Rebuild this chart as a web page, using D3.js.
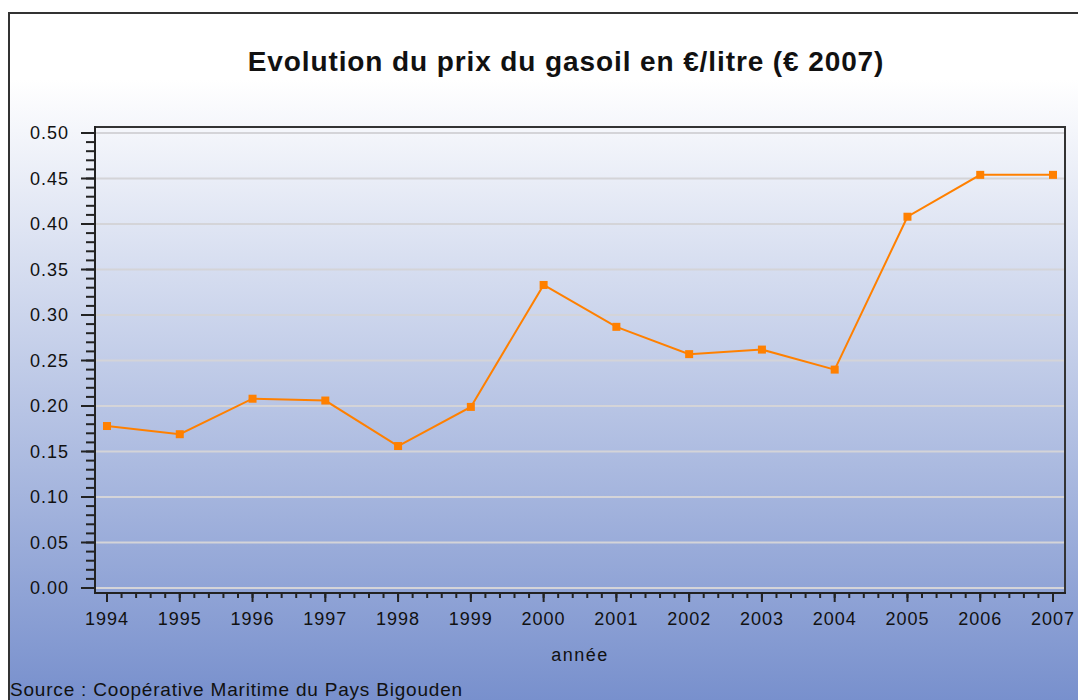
<!DOCTYPE html>
<html>
<head>
<meta charset="utf-8">
<script src="https://cdn.jsdelivr.net/npm/d3@7"></script>
<style>
  body { margin: 0; background: #fff; }
  svg { display: block; }
  text { font-family: "Liberation Sans", Arial, sans-serif; fill: #111; }
</style>
</head>
<body>
<div id="chart"></div>
<script>
// data
var years = [1994, 1995, 1996, 1997, 1998, 1999, 2000, 2001, 2002, 2003, 2004, 2005, 2006, 2007];
var prices = [0.178, 0.169, 0.208, 0.206, 0.156, 0.199, 0.333, 0.287, 0.257, 0.262, 0.240, 0.408, 0.454, 0.454];
var yTicks = [0, 0.05, 0.10, 0.15, 0.20, 0.25, 0.30, 0.35, 0.40, 0.45, 0.50];

var W = 1078, H = 700;

var svg = d3.select("#chart")
    .append("svg")
    .attr("width", W)
    .attr("height", H);

// background gradient
var defs = svg.append("defs");
var grad = defs.append("linearGradient")
    .attr("id", "bg")
    .attr("gradientUnits", "userSpaceOnUse")
    .attr("x1", 0).attr("y1", 80).attr("x2", 0).attr("y2", 700);
grad.append("stop").attr("offset", "0%").attr("stop-color", "#ffffff");
grad.append("stop").attr("offset", "100%").attr("stop-color", "#7890cd");

svg.append("rect")
    .attr("x", 9).attr("y", 13)
    .attr("width", W).attr("height", H)
    .attr("fill", "url(#bg)")
    .attr("stroke", "#333")
    .attr("stroke-width", 2);

// plot box
var box = {left: 95, top: 127, right: 1065, bottom: 593};

var x = d3.scaleLinear().domain([1994, 2007]).range([107, 1053]);
var y = d3.scaleLinear().domain([0, 0.5]).range([588, 133]);

// title
svg.append("text")
    .attr("x", 566).attr("y", 71)
    .attr("text-anchor", "middle")
    .style("font-size", "28px")
    .style("font-weight", "bold")
    .style("letter-spacing", "0.9px")
    .text("Evolution du prix du gasoil en €/litre (€ 2007)");

// gridlines
svg.append("g")
    .selectAll("line")
    .data(yTicks)
    .enter()
    .append("line")
    .attr("x1", box.left).attr("x2", box.right)
    .attr("y1", d => y(d)).attr("y2", d => y(d))
    .attr("stroke", "#d4d4d8")
    .attr("stroke-width", 2);

// frame top and right
svg.append("path")
    .attr("d", "M" + box.left + "," + box.top + "H" + box.right + "V" + box.bottom)
    .attr("fill", "none")
    .attr("stroke", "#333")
    .attr("stroke-width", 2);

// y axis
var yAxis = svg.append("g")
    .attr("transform", "translate(" + box.left + ",0)");

yAxis.selectAll("line.minor")
    .data(d3.range(0, 51).map(d => d / 100))
    .enter()
    .append("line")
    .attr("class", "minor")
    .attr("x1", -9).attr("x2", 0)
    .attr("y1", d => y(d)).attr("y2", d => y(d))
    .attr("stroke", "#222").attr("stroke-width", 2);

yAxis.selectAll("line.major")
    .data(yTicks)
    .enter()
    .append("line")
    .attr("class", "major")
    .attr("x1", -14).attr("x2", 0)
    .attr("y1", d => y(d)).attr("y2", d => y(d))
    .attr("stroke", "#222").attr("stroke-width", 2);

yAxis.selectAll("text")
    .data(yTicks)
    .enter()
    .append("text")
    .attr("x", -26)
    .attr("y", d => y(d))
    .attr("dy", "0.36em")
    .attr("text-anchor", "end")
    .style("font-size", "18px")
    .style("letter-spacing", "1px")
    .text(d => d3.format(".2f")(d));

yAxis.append("line")
    .attr("x1", 0).attr("x2", 0)
    .attr("y1", box.top - 1).attr("y2", box.bottom + 1)
    .attr("stroke", "#222").attr("stroke-width", 2);

// x axis
var xAxis = svg.append("g")
    .attr("transform", "translate(0," + box.bottom + ")");

xAxis.selectAll("line.minor")
    .data(d3.range(0, 66).map(d => 1994 + d / 5))
    .enter()
    .append("line")
    .attr("class", "minor")
    .attr("x1", d => x(d)).attr("x2", d => x(d))
    .attr("y1", 0).attr("y2", 5)
    .attr("stroke", "#222").attr("stroke-width", 2);

xAxis.selectAll("line.major")
    .data(years)
    .enter()
    .append("line")
    .attr("class", "major")
    .attr("x1", d => x(d)).attr("x2", d => x(d))
    .attr("y1", 0).attr("y2", 9)
    .attr("stroke", "#222").attr("stroke-width", 2);

xAxis.selectAll("text")
    .data(years)
    .enter()
    .append("text")
    .attr("x", d => x(d))
    .attr("y", 32)
    .attr("text-anchor", "middle")
    .style("font-size", "18px")
    .style("letter-spacing", "1px")
    .text(d => d);

xAxis.append("line")
    .attr("x1", box.left - 1).attr("x2", box.right + 1)
    .attr("y1", 0).attr("y2", 0)
    .attr("stroke", "#222").attr("stroke-width", 2);

// axis title and source
svg.append("text")
    .attr("x", 580).attr("y", 661)
    .attr("text-anchor", "middle")
    .style("font-size", "18px")
    .style("letter-spacing", "1.5px")
    .text("année");

svg.append("text")
    .attr("x", 10).attr("y", 696)
    .style("font-size", "19px")
    .style("letter-spacing", "0.8px")
    .text("Source : Coopérative Maritime du Pays Bigouden");

// line and markers
var line = d3.line()
    .x((d, i) => x(years[i]))
    .y(d => y(d));

svg.append("path")
    .datum(prices)
    .attr("d", line)
    .attr("fill", "none")
    .attr("stroke", "#ff8000")
    .attr("stroke-width", 2);

svg.append("g")
    .selectAll("rect")
    .data(prices)
    .enter()
    .append("rect")
    .attr("x", (d, i) => x(years[i]) - 4)
    .attr("y", d => y(d) - 4)
    .attr("width", 8)
    .attr("height", 8)
    .attr("fill", "#ff8000");
</script>
</body>
</html>
